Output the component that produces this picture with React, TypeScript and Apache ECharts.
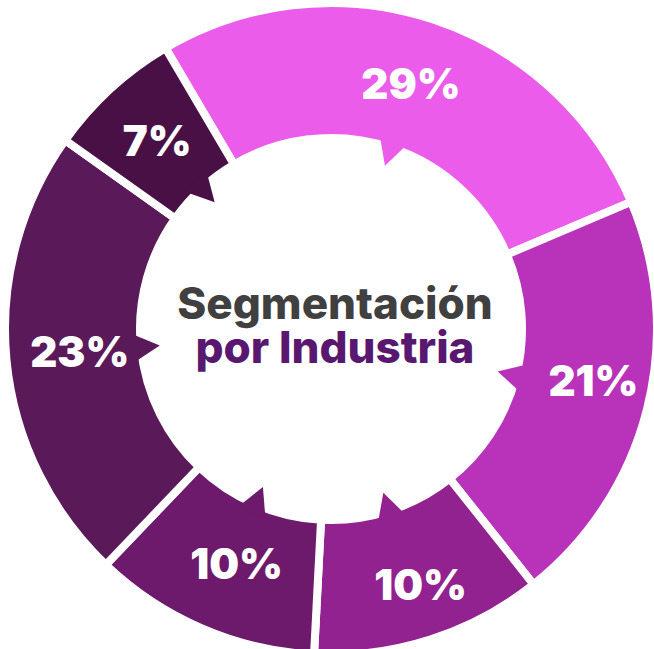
import React, { useEffect, useRef } from 'react';
import * as echarts from 'echarts';

// Displayed percentage labels (clockwise from the top-left boundary)
const percentLabels = ['29%', '21%', '10%', '10%', '23%', '7%'];
// Arc sizes as drawn in the picture
const arcShares = [27.1, 20.7, 11.5, 11.3, 22.7, 6.7];
const sliceColors = ['#EA5CE9', '#B833B9', '#92228F', '#6D196C', '#5A1959', '#491046'];
const titleLine1 = 'Segmentación';
const titleLine2 = 'por Industria';

// style: small nudges of each label inside its slice
const labelNudges = [
  [-2, 3],
  [9, -13],
  [10, 6],
  [9, -6],
  [9, -2],
  [3, 4],
];

const W = 654;
const H = 649;
const CX = 331;
const CY = 329;
const R_IN = 195;
const R_OUT = 322;
const GAP = 8;
const START = 120.5;

export default function App() {
  const ref = useRef<HTMLDivElement>(null);
  useEffect(() => {
    document.body.style.margin = '0';
    const chart = echarts.init(ref.current as HTMLDivElement, null, { renderer: 'svg' });
    const total = arcShares.reduce((a, b) => a + b, 0);
    const pt = (deg: number, r: number) => [
      CX + r * Math.cos((deg * Math.PI) / 180),
      CY - r * Math.sin((deg * Math.PI) / 180),
    ];
    const option: any = {
      animation: false,
      backgroundColor: '#ffffff',
      series: [
        {
          type: 'pie',
          center: [CX, CY],
          radius: [R_IN - GAP / 2, R_OUT + GAP / 2],
          startAngle: START,
          clockwise: true,
          avoidLabelOverlap: false,
          silent: true,
          itemStyle: { borderColor: '#ffffff', borderWidth: GAP },
          label: {
            show: true,
            position: 'inside',
            formatter: (p: any) => percentLabels[p.dataIndex],
            color: '#ffffff',
            fontSize: 42,
            fontWeight: 900,
            fontFamily: 'Inter',
          },
          labelLine: { show: false },
          emphasis: { disabled: true },
          data: arcShares.map((v, i) => ({
            value: v,
            name: percentLabels[i],
            itemStyle: { color: sliceColors[i] },
            label: { offset: labelNudges[i] },
          })),
          z: 1,
        },
        {
          type: 'custom',
          coordinateSystem: 'none',
          z: 3,
          silent: true,
          data: arcShares.map((v, i) => [i, v]),
          renderItem: (params: any) => {
            const i = params.dataIndex;
            let before = 0;
            for (let k = 0; k < i; k++) before += arcShares[k];
            const a0 = START - (before / total) * 360;
            const a1 = a0 - (arcShares[i] / total) * 360;
            const mid = (a0 + a1) / 2;
            return {
              type: 'polygon',
              shape: {
                points: [pt(mid + 4.3, R_IN + 6), pt(mid, R_IN - 23), pt(mid - 4.3, R_IN + 6)],
              },
              style: { fill: sliceColors[i] },
            };
          },
        },
      ],
      graphic: [
        {
          type: 'text',
          x: 335,
          y: 325,
          style: {
            text: '{a|' + titleLine1 + '}\n{b|' + titleLine2 + '}',
            align: 'center',
            verticalAlign: 'middle',
            rich: {
              a: {
                fill: '#404040',
                fontSize: 44,
                fontWeight: 800,
                fontFamily: 'Inter',
                lineHeight: 44,
                align: 'center',
              },
              b: {
                fill: '#581870',
                fontSize: 44,
                fontWeight: 800,
                fontFamily: 'Inter',
                lineHeight: 44,
                align: 'center',
              },
            },
          },
        },
      ],
    };
    chart.setOption(option);
    return () => chart.dispose();
  }, []);
  return (
    <div
      ref={ref}
      style={{ position: 'fixed', left: 0, top: 0, width: W, height: H }}
    />
  );
}
